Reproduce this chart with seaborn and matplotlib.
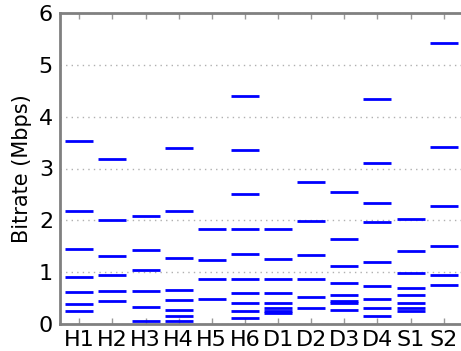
import matplotlib
matplotlib.use("Agg")
import matplotlib.pyplot as plt
import seaborn as sns
import pandas as pd

# Encoding ladders (Mbps) offered by each video source
categories = ["H1", "H2", "H3", "H4", "H5", "H6", "D1", "D2", "D3", "D4", "S1", "S2"]
h1 = [3.54, 2.18, 1.44, 0.91, 0.61, 0.38, 0.26]
h2 = [3.18, 2.00, 1.32, 0.95, 0.64, 0.45]
h3 = [2.09, 1.43, 1.05, 0.64, 0.32, 0.06]
h4 = [3.39, 2.18, 1.27, 0.66, 0.47, 0.27, 0.16, 0.05]
h5 = [1.84, 1.23, 0.86, 0.48]
h6 = [4.40, 3.36, 2.50, 1.83, 1.36, 0.875, 0.59, 0.40, 0.26, 0.11]
d1 = [1.84, 1.26, 0.875, 0.60, 0.40, 0.31, 0.26, 0.21]
d2 = [2.73, 1.99, 1.34, 0.86, 0.53, 0.30]
d3 = [2.55, 1.64, 1.11, 0.80, 0.55, 0.45, 0.41, 0.27]
d4 = [4.34, 3.11, 2.34, 1.97, 1.20, 0.73, 0.49, 0.30, 0.16]
s1 = [2.02, 1.41, 0.98, 0.70, 0.55, 0.41, 0.31, 0.26]
s2 = [5.42, 3.42, 2.28, 1.51, 0.94, 0.75]
ladders = [h1, h2, h3, h4, h5, h6, d1, d2, d3, d4, s1, s2]

rows = [(cat, v) for cat, ladder in zip(categories, ladders) for v in ladder]
df = pd.DataFrame(rows, columns=["source", "bitrate"])

sns.set_style("white", {"text.color": "black", "axes.labelcolor": "black",
                        "xtick.color": "black", "ytick.color": "black"})
plt.rcParams["font.family"] = ["DejaVu Sans"]

fig = plt.figure(figsize=(4.61, 3.51), dpi=100)
ax = fig.add_axes([60 / 461, 27 / 351, 403 / 461, 311 / 351])

sns.scatterplot(data=df, x="source", y="bitrate", marker="_", s=19.5 ** 2,
                linewidth=2.0, color="#0000ff", ax=ax, legend=False, zorder=3)

ax.set_xlim(-0.58, len(categories) - 1 + 0.58)
ax.set_ylim(0, 6)
ax.set_yticks(range(0, 7))
ax.yaxis.grid(True, linestyle=(0, (1, 3)), color="#b0b0b0", linewidth=1.0)
ax.xaxis.grid(False)

for sp in ax.spines.values():
    sp.set_color("#808080")
    sp.set_linewidth(2)

ax.tick_params(axis="x", direction="in", length=4, width=1, color="#999999",
               labelcolor="black", top=True, bottom=True, labelsize=16, pad=4)
ax.tick_params(axis="y", length=0, labelcolor="black", labelsize=16, pad=5)

ax.set_xlabel("")
ax.set_ylabel("Bitrate (Mbps)", fontsize=15, labelpad=5, color="black")

fig.savefig("out.png", dpi=100)
